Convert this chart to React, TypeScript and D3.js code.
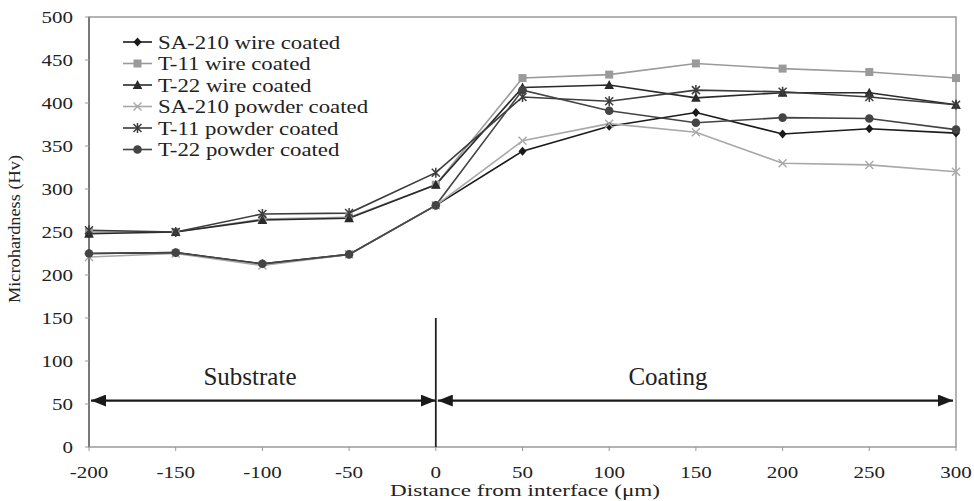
import React, { useRef, useEffect } from "react";
import * as d3 from "d3";

// distance from interface (µm)
const distances = [-200, -150, -100, -50, 0, 50, 100, 150, 200, 250, 300];

const seriesNames = [
  "SA-210 wire coated",
  "T-11 wire coated",
  "T-22 wire coated",
  "SA-210 powder coated",
  "T-11 powder coated",
  "T-22 powder coated",
];

const sa210Wire = [225, 226, 213, 224, 281, 344, 373, 389, 364, 370, 365];
const t11Wire = [250, 250, 265, 267, 305, 429, 433, 446, 440, 436, 429];
const t22Wire = [248, 250, 264, 266, 305, 418, 421, 406, 412, 412, 398];
const sa210Powder = [221, 225, 211, 224, 281, 356, 376, 366, 330, 328, 320];
const t11Powder = [252, 250, 271, 272, 319, 407, 402, 415, 413, 407, 398];
const t22Powder = [225, 226, 213, 224, 281, 415, 391, 377, 383, 382, 369];

const seriesValues = [sa210Wire, t11Wire, t22Wire, sa210Powder, t11Powder, t22Powder];

const yTicks = [0, 50, 100, 150, 200, 250, 300, 350, 400, 450, 500];
const xTicks = [-200, -150, -100, -50, 0, 50, 100, 150, 200, 250, 300];

const regionLabels = ["Substrate", "Coating"];
const regionStart = [-200, 0];
const regionEnd = [0, 300];

const FONT = "Liberation Serif, Times New Roman, Times, serif";

const styles = [
  { color: "#1a1a1a", marker: "diamond" },
  { color: "#9a9a9a", marker: "square" },
  { color: "#2a2a2a", marker: "triangle" },
  { color: "#a8a8a8", marker: "x" },
  { color: "#3c3c3c", marker: "star" },
  { color: "#444444", marker: "circle" },
];

function drawMarker(g, kind, color) {
  if (kind === "diamond") {
    g.append("path").attr("d", "M0,-4.5L4,0L0,4.5L-4,0Z").attr("fill", color);
  } else if (kind === "square") {
    g.append("rect").attr("x", -4).attr("y", -4).attr("width", 8).attr("height", 8).attr("fill", color);
  } else if (kind === "triangle") {
    g.append("path").attr("d", "M0,-5L4.8,4L-4.8,4Z").attr("fill", color);
  } else if (kind === "circle") {
    g.append("circle").attr("r", 4.3).attr("fill", color);
  } else if (kind === "x") {
    g.append("path").attr("d", "M-4,-4L4,4M-4,4L4,-4").attr("stroke", color).attr("stroke-width", 1.4);
  } else if (kind === "star") {
    g.append("path")
      .attr("d", "M-4,-4L4,4M-4,4L4,-4M0,-5L0,5")
      .attr("stroke", color)
      .attr("stroke-width", 1.5);
  }
}

const App = () => {
  const svgRef = useRef(null);

  useEffect(() => {
    const width = 974;
    const height = 501;
    const svg = d3.select(svgRef.current);
    svg.selectAll("*").remove();
    svg.attr("width", width).attr("height", height);

    const x = d3.scaleLinear().domain([-200, 300]).range([89, 956]);
    const y = d3.scaleLinear().domain([0, 500]).range([447, 17]);

    const addText = (parent, txt) =>
      parent.append("text").attr("font-family", FONT).attr("fill", "#222").text(txt);

    // plot frame
    svg
      .append("rect")
      .attr("x", x(-200))
      .attr("y", y(500))
      .attr("width", x(300) - x(-200))
      .attr("height", y(0) - y(500))
      .attr("fill", "none")
      .attr("stroke", "#9a9a9a")
      .attr("stroke-width", 1.5);
    svg
      .append("line")
      .attr("x1", x(-200))
      .attr("x2", x(-200))
      .attr("y1", y(500))
      .attr("y2", y(0))
      .attr("stroke", "#666")
      .attr("stroke-width", 1.5);

    // y axis ticks
    const yAxis = svg.append("g");
    yTicks.forEach((t) => {
      yAxis
        .append("line")
        .attr("x1", x(-200) - 4)
        .attr("x2", x(-200))
        .attr("y1", y(t))
        .attr("y2", y(t))
        .attr("stroke", "#999");
      addText(yAxis, t)
        .attr("transform", `translate(73,${y(t) + 6}) scale(1.2,1)`)
        .attr("text-anchor", "end")
        .attr("font-size", 17.5);
    });

    // x axis ticks
    const xAxis = svg.append("g");
    xTicks.forEach((t) => {
      xAxis
        .append("line")
        .attr("x1", x(t))
        .attr("x2", x(t))
        .attr("y1", y(0))
        .attr("y2", y(0) + 4)
        .attr("stroke", "#999");
      addText(xAxis, t)
        .attr("transform", `translate(${x(t)},${y(0) + 31}) scale(1.2,1)`)
        .attr("text-anchor", "middle")
        .attr("font-size", 17.5);
    });

    // axis titles
    addText(svg, "Microhardness (Hv)")
      .attr("transform", `translate(20,229) rotate(-90)`)
      .attr("text-anchor", "middle")
      .attr("font-size", 17)
      .attr("textLength", 148)
      .attr("lengthAdjust", "spacingAndGlyphs");
    addText(svg, "Distance from interface (μm)")
      .attr("x", 525)
      .attr("y", 496)
      .attr("text-anchor", "middle")
      .attr("font-size", 17)
      .attr("textLength", 270)
      .attr("lengthAdjust", "spacingAndGlyphs");

    // interface line
    svg
      .append("line")
      .attr("x1", x(0))
      .attr("x2", x(0))
      .attr("y1", y(150))
      .attr("y2", y(0))
      .attr("stroke", "#222")
      .attr("stroke-width", 1.8);

    // region arrows
    const defs = svg.append("defs");
    defs
      .append("marker")
      .attr("id", "arrowHead")
      .attr("viewBox", "0 0 15 12")
      .attr("refX", 15)
      .attr("refY", 6)
      .attr("markerWidth", 15)
      .attr("markerHeight", 12)
      .attr("markerUnits", "userSpaceOnUse")
      .attr("orient", "auto-start-reverse")
      .append("path")
      .attr("d", "M0,0L15,6L0,12Z")
      .attr("fill", "#1a1a1a");

    regionLabels.forEach((label, i) => {
      const x0 = x(regionStart[i]) + 2;
      const x1 = x(regionEnd[i]) - (i === 0 ? 0 : 3);
      svg
        .append("line")
        .attr("x1", x0)
        .attr("x2", x1)
        .attr("y1", y(54))
        .attr("y2", y(54))
        .attr("stroke", "#1a1a1a")
        .attr("stroke-width", 2.2)
        .attr("marker-start", "url(#arrowHead)")
        .attr("marker-end", "url(#arrowHead)");
    });
    addText(svg, regionLabels[0])
      .attr("x", 250)
      .attr("y", 385)
      .attr("text-anchor", "middle")
      .attr("font-size", 25);
    addText(svg, regionLabels[1])
      .attr("x", 668)
      .attr("y", 385)
      .attr("text-anchor", "middle")
      .attr("font-size", 25);

    // series
    const line = d3
      .line()
      .x((d) => x(d[0]))
      .y((d) => y(d[1]));

    seriesValues.forEach((vals, i) => {
      const pts = distances.map((dist, j) => [dist, vals[j]]);
      svg
        .append("path")
        .attr("d", line(pts))
        .attr("fill", "none")
        .attr("stroke", styles[i].color)
        .attr("stroke-width", 1.6);
    });
    seriesValues.forEach((vals, i) => {
      distances.forEach((dist, j) => {
        const g = svg.append("g").attr("transform", `translate(${x(dist)},${y(vals[j])})`);
        drawMarker(g, styles[i].marker, styles[i].color);
      });
    });

    // legend
    const legend = svg.append("g");
    seriesNames.forEach((name, i) => {
      const cy = 42 + i * 21.5;
      legend
        .append("line")
        .attr("x1", 123)
        .attr("x2", 152)
        .attr("y1", cy)
        .attr("y2", cy)
        .attr("stroke", styles[i].color)
        .attr("stroke-width", 1.6);
      const mg = legend.append("g").attr("transform", `translate(137.5,${cy})`);
      drawMarker(mg, styles[i].marker, styles[i].color);
      addText(legend, name)
        .attr("transform", `translate(158,${cy + 6.5}) scale(1.2,1)`)
        .attr("font-size", 19);
    });
  }, []);

  return (
    <div style={{ position: "absolute", left: 0, top: 0, width: 974, height: 501, background: "#fff" }}>
      <svg ref={svgRef} style={{ display: "block" }}></svg>
    </div>
  );
};

export default App;
